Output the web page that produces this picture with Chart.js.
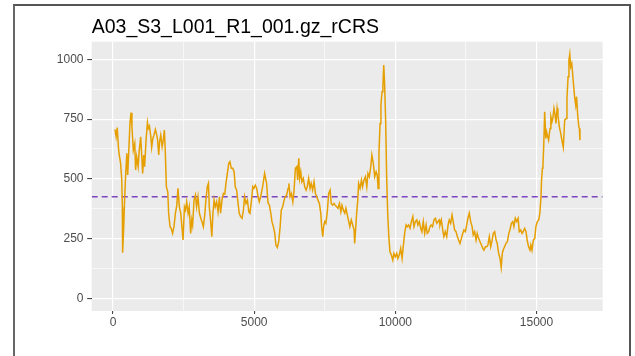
<!DOCTYPE html>
<html>
<head>
<meta charset="utf-8">
<script src="https://cdn.jsdelivr.net/npm/chart.js@4.4.1/dist/chart.umd.min.js"></script>
<style>
  html, body { margin: 0; padding: 0; background: #fff; }
  #wrap { position: relative; width: 635px; height: 356px; overflow: hidden; }
  #frame { position: absolute; left: 13px; top: 4px; width: 614px; height: 400px;
           border-top: 2px solid #555; border-right: 2px solid #555; border-left: 2px solid #666;
           pointer-events: none; }
</style>
</head>
<body>
<div id="wrap">
  <canvas id="cov" width="635" height="356"></canvas>
  <div id="frame"></div>
</div>
<script>
// coverage along the rCRS reference (position, depth)
const positions = [
  70, 110, 150, 190, 220, 270, 310, 330, 340, 380, 410, 450, 490, 520, 560, 600, 640, 670, 720, 770,
  800, 840, 890, 930, 980, 1020, 1050, 1090, 1120, 1170, 1220, 1250, 1290, 1340, 1370, 1410, 1450, 1500, 1550, 1580,
  1620, 1650, 1690, 1740, 1780, 1820, 1850, 1890, 1940, 1970, 2020, 2060, 2110, 2160, 2210, 2260, 2300, 2350, 2400, 2440,
  2480, 2530, 2570, 2610, 2660, 2700, 2750, 2790, 2820, 2870, 2920, 2960, 3010, 3060, 3110, 3150, 3200, 3250, 3290, 3340,
  3380, 3410, 3460, 3500, 3540, 3580, 3620, 3670, 3720, 3770, 3810, 3860, 3910, 3960, 4000, 4050, 4100, 4140, 4190, 4240,
  4290, 4330, 4380, 4430, 4470, 4520, 4570, 4620, 4660, 4710, 4760, 4810, 4850, 4900, 4950, 4990, 5040, 5090, 5140, 5180,
  5230, 5300, 5370, 5440, 5490, 5540, 5590, 5630, 5680, 5730, 5770, 5820, 5870, 5920, 5960, 6010, 6060, 6100, 6150, 6200,
  6230, 6270, 6320, 6370, 6410, 6460, 6510, 6540, 6580, 6610, 6650, 6690, 6740, 6790, 6840, 6880, 6930, 6980, 7020, 7070,
  7120, 7170, 7220, 7260, 7310, 7360, 7390, 7430, 7460, 7500, 7540, 7590, 7640, 7690, 7730, 7780, 7830, 7870, 7920, 7970,
  8020, 8070, 8110, 8160, 8210, 8250, 8300, 8350, 8390, 8440, 8490, 8540, 8560, 8600, 8630, 8670, 8700, 8750, 8800, 8840,
  8890, 8940, 8990, 9030, 9080, 9130, 9170, 9220, 9270, 9320, 9360, 9390, 9420, 9460, 9490, 9530, 9560, 9590, 9620, 9660,
  9690, 9730, 9770, 9810, 9860, 9910, 9950, 10000, 10050, 10090, 10140, 10190, 10240, 10280, 10330, 10380, 10420, 10470, 10520, 10570,
  10620, 10660, 10710, 10760, 10800, 10850, 10900, 10940, 10990, 11040, 11090, 11130, 11180, 11230, 11270, 11320, 11370, 11420, 11470, 11550,
  11580, 11630, 11680, 11720, 11770, 11820, 11870, 11910, 11960, 12010, 12050, 12100, 12150, 12200, 12240, 12290, 12340, 12390, 12430, 12480,
  12530, 12570, 12620, 12670, 12720, 12760, 12810, 12860, 12900, 12950, 13000, 13050, 13100, 13140, 13190, 13240, 13280, 13330, 13380, 13420,
  13470, 13520, 13570, 13610, 13660, 13710, 13750, 13790, 13820, 13870, 13920, 13970, 14020, 14060, 14110, 14160, 14200, 14250, 14300, 14350,
  14390, 14440, 14490, 14530, 14580, 14630, 14670, 14720, 14770, 14800, 14840, 14890, 14940, 14980, 15030, 15080, 15120, 15160, 15180, 15210,
  15230, 15260, 15290, 15330, 15360, 15400, 15430, 15480, 15510, 15550, 15580, 15620, 15660, 15690, 15730, 15760, 15810, 15860, 15900, 15950,
  16000, 16050, 16080, 16120, 16150, 16180, 16210, 16250, 16280, 16320, 16350, 16390, 16420, 16460, 16500, 16520, 16540
];
const coverage = [
  707, 676, 715, 634, 600, 565, 495, 383, 191, 300, 411, 523, 607, 516, 620, 732, 777, 718, 620, 648,
  537, 592, 551, 620, 676, 592, 523, 600, 551, 662, 735, 711, 721, 676, 632, 669, 683, 707, 683, 662,
  600, 655, 683, 634, 662, 704, 620, 467, 446, 356, 300, 293, 272, 300, 356, 390, 460, 383, 356, 300,
  244, 383, 369, 404, 356, 383, 272, 328, 307, 411, 432, 383, 425, 356, 335, 321, 300, 349, 411, 467,
  481, 383, 321, 258, 356, 411, 383, 404, 362, 425, 356, 411, 439, 436, 481, 523, 565, 572, 544, 544,
  530, 467, 453, 397, 356, 342, 335, 369, 425, 397, 411, 362, 356, 404, 467, 460, 474, 460, 425, 404,
  425, 467, 523, 481, 400, 390, 356, 321, 300, 272, 223, 213, 237, 300, 369, 383, 411, 425, 432, 460,
  481, 425, 439, 404, 446, 544, 551, 495, 586, 502, 530, 488, 502, 467, 453, 467, 502, 460, 481, 453,
  488, 439, 425, 411, 397, 356, 300, 258, 300, 321, 314, 362, 439, 453, 397, 390, 397, 390, 383, 377,
  397, 362, 390, 369, 356, 377, 349, 321, 300, 328, 307, 286, 230, 300, 356, 411, 481, 460, 495, 467,
  495, 509, 467, 523, 509, 551, 600, 565, 509, 530, 516, 460, 607, 732, 809, 865, 885, 976, 900, 732,
  523, 356, 258, 195, 181, 160, 188, 174, 188, 167, 181, 209, 167, 216, 272, 307, 300, 307, 293, 321,
  342, 300, 321, 328, 307, 321, 293, 279, 321, 272, 307, 272, 279, 300, 307, 300, 328, 335, 314, 328,
  307, 328, 286, 258, 279, 258, 307, 328, 314, 349, 321, 286, 279, 258, 244, 230, 251, 272, 286, 279,
  307, 335, 356, 321, 300, 265, 279, 244, 272, 251, 237, 223, 209, 202, 216, 216, 223, 258, 216, 237,
  272, 279, 244, 230, 188, 167, 130, 188, 202, 216, 230, 237, 272, 286, 314, 321, 300, 335, 321, 335,
  279, 286, 272, 279, 293, 279, 244, 216, 202, 223, 202, 244, 251, 300, 321, 328, 356, 425, 495, 544,
  558, 648, 781, 669, 697, 676, 662, 711, 760, 739, 753, 795, 767, 732, 795, 767, 718, 690, 662, 632,
  746, 753, 837, 927, 997, 1022, 969, 983, 941, 885, 844, 809, 844, 767, 718, 711, 662
];
const meanCoverage = 425;
const xRange = [-755, 17346];
const yRange = [-53, 1074];
const xGrid = [0, 2500, 5000, 7500, 10000, 12500, 15000];
const yGrid = [0, 125, 250, 375, 500, 625, 750, 875, 1000];
const chartTitle = 'A03_S3_L001_R1_001.gz_rCRS';

const panelBg = {
  id: 'panelBg',
  beforeDraw(chart) {
    const { ctx, chartArea: a } = chart;
    ctx.save();
    ctx.fillStyle = '#EBEBEB';
    ctx.fillRect(a.left, a.top, a.right - a.left, a.bottom - a.top);
    ctx.restore();
  }
};

const isMajorX = v => v % 5000 === 0;
const isMajorY = v => v % 250 === 0;
const tickFont = { family: '"Liberation Sans", Arial, sans-serif', size: 12 };

new Chart(document.getElementById('cov'), {
  type: 'line',
  data: {
    datasets: [
      {
        data: positions.map((p, i) => ({ x: p, y: coverage[i] })),
        borderColor: '#E69F00',
        borderWidth: 1.5,
        pointRadius: 0,
        tension: 0
      },
      {
        data: xRange.map(p => ({ x: p, y: meanCoverage })),
        borderColor: '#7E45C0',
        borderWidth: 1.5,
        borderDash: [6, 4],
        pointRadius: 0
      }
    ]
  },
  options: {
    responsive: false,
    animation: false,
    layout: { padding: { left: 0, right: 32.3, top: 0, bottom: 0 } },
    plugins: {
      legend: { display: false },
      tooltip: { enabled: false },
      title: {
        display: true,
        text: chartTitle,
        align: 'start',
        fullSize: false,
        color: '#000',
        font: { family: '"Liberation Sans", Arial, sans-serif', size: 19.5, weight: 'normal', lineHeight: 1.2 },
        padding: { top: 15.8, bottom: 2.5 }
      }
    },
    scales: {
      x: {
        type: 'linear',
        min: xRange[0],
        max: xRange[1],
        afterBuildTicks: s => { s.ticks = xGrid.map(v => ({ value: v })); },
        afterFit: s => { s.height = 45; },
        border: { display: false },
        grid: {
          color: '#FFFFFF',
          lineWidth: c => isMajorX(c.tick.value) ? 1.2 : 0.6,
          tickLength: 3,
          tickWidth: 1,
          tickColor: c => isMajorX(c.tick.value) ? '#333333' : 'rgba(0,0,0,0)'
        },
        ticks: {
          color: '#4D4D4D',
          font: tickFont,
          padding: 1.5,
          maxRotation: 0,
          autoSkip: false,
          callback: v => isMajorX(v) ? String(v) : ''
        }
      },
      y: {
        min: yRange[0],
        max: yRange[1],
        afterBuildTicks: s => { s.ticks = yGrid.map(v => ({ value: v })); },
        afterFit: s => { s.width = 91.7; },
        border: { display: false },
        grid: {
          color: '#FFFFFF',
          lineWidth: c => isMajorY(c.tick.value) ? 1.2 : 0.6,
          tickLength: 4.5,
          tickWidth: 1,
          tickColor: c => isMajorY(c.tick.value) ? '#333333' : 'rgba(0,0,0,0)'
        },
        ticks: {
          color: '#4D4D4D',
          font: tickFont,
          padding: 3.7,
          autoSkip: false,
          callback: v => isMajorY(v) ? String(v) : ''
        }
      }
    }
  },
  plugins: [panelBg]
});
</script>
</body>
</html>
